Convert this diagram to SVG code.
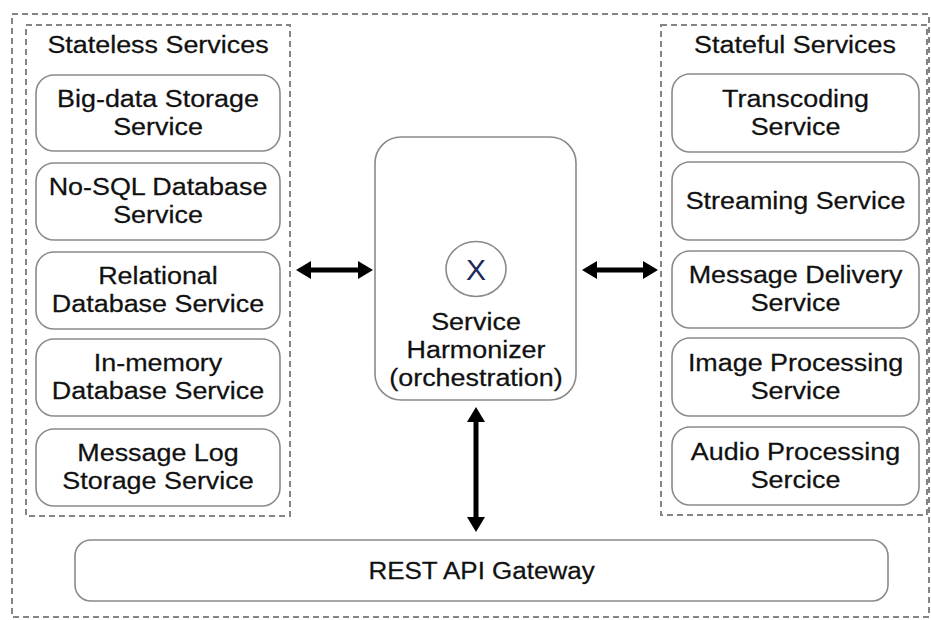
<svg xmlns="http://www.w3.org/2000/svg" width="931" height="620" viewBox="0 0 931 620">
  <style>
    .frame { fill: none; stroke: #858585; stroke-width: 2; stroke-dasharray: 6 4; }
    .node { fill: #ffffff; stroke: #8a8a8a; stroke-width: 1.6; }
    .lbl { font-family: "Liberation Sans", Arial, sans-serif; font-size: 23px; fill: #111111; text-anchor: middle; stroke: #111111; stroke-width: 0.25; }
    .title { font-family: "Liberation Sans", Arial, sans-serif; font-size: 23px; fill: #111111; text-anchor: middle; stroke: #111111; stroke-width: 0.25; }
    .link { stroke: #000000; stroke-width: 5; fill: none; }
  </style>
  <defs>
    <marker id="head" viewBox="0 0 15 18" refX="4" refY="9" markerWidth="15" markerHeight="18" markerUnits="userSpaceOnUse" orient="auto-start-reverse">
      <path d="M0,0 L15,9 L0,18 z" fill="#000000"/>
    </marker>
  </defs>

  <rect width="931" height="620" fill="#ffffff"/>

  <!-- outer system boundary -->
  <rect class="frame" x="12" y="14" width="917" height="603"/>

  <!-- stateless group -->
  <g id="stateless-group">
    <rect class="frame" x="26" y="25" width="264" height="491"/>
    <text class="title" transform="matrix(1.17 0 0 1 158 0)" x="0" y="53">Stateless Services</text>
  </g>
  <g id="big-data-storage">
    <rect class="node" x="36" y="75" width="244" height="76" rx="18"/>
    <text class="lbl" transform="matrix(1.17 0 0 1 158 0)" x="0" y="107">Big-data Storage</text>
    <text class="lbl" transform="matrix(1.17 0 0 1 158 0)" x="0" y="135">Service</text>
  </g>
  <g id="nosql-database">
    <rect class="node" x="36" y="163" width="244" height="77" rx="18"/>
    <text class="lbl" transform="matrix(1.17 0 0 1 158 0)" x="0" y="195">No-SQL Database</text>
    <text class="lbl" transform="matrix(1.17 0 0 1 158 0)" x="0" y="223">Service</text>
  </g>
  <g id="relational-database">
    <rect class="node" x="36" y="252" width="244" height="77" rx="18"/>
    <text class="lbl" transform="matrix(1.17 0 0 1 158 0)" x="0" y="284">Relational</text>
    <text class="lbl" transform="matrix(1.17 0 0 1 158 0)" x="0" y="312">Database Service</text>
  </g>
  <g id="in-memory-database">
    <rect class="node" x="36" y="339" width="244" height="77" rx="18"/>
    <text class="lbl" transform="matrix(1.17 0 0 1 158 0)" x="0" y="371">In-memory</text>
    <text class="lbl" transform="matrix(1.17 0 0 1 158 0)" x="0" y="399">Database Service</text>
  </g>
  <g id="message-log-storage">
    <rect class="node" x="36" y="429" width="244" height="77" rx="18"/>
    <text class="lbl" transform="matrix(1.17 0 0 1 158 0)" x="0" y="461">Message Log</text>
    <text class="lbl" transform="matrix(1.17 0 0 1 158 0)" x="0" y="489">Storage Service</text>
  </g>

  <!-- stateful group -->
  <g id="stateful-group">
    <rect class="frame" x="661" y="25" width="266" height="490"/>
    <text class="title" transform="matrix(1.17 0 0 1 795 0)" x="0" y="53">Stateful Services</text>
  </g>
  <g id="transcoding">
    <rect class="node" x="672" y="74" width="247" height="78" rx="18"/>
    <text class="lbl" transform="matrix(1.17 0 0 1 795.5 0)" x="0" y="107">Transcoding</text>
    <text class="lbl" transform="matrix(1.17 0 0 1 795.5 0)" x="0" y="135">Service</text>
  </g>
  <g id="streaming">
    <rect class="node" x="672" y="162" width="247" height="78" rx="18"/>
    <text class="lbl" transform="matrix(1.17 0 0 1 795.5 0)" x="0" y="209">Streaming Service</text>
  </g>
  <g id="message-delivery">
    <rect class="node" x="672" y="251" width="247" height="77" rx="18"/>
    <text class="lbl" transform="matrix(1.17 0 0 1 795.5 0)" x="0" y="283">Message Delivery</text>
    <text class="lbl" transform="matrix(1.17 0 0 1 795.5 0)" x="0" y="311">Service</text>
  </g>
  <g id="image-processing">
    <rect class="node" x="672" y="338" width="247" height="78" rx="18"/>
    <text class="lbl" transform="matrix(1.17 0 0 1 795.5 0)" x="0" y="371">Image Processing</text>
    <text class="lbl" transform="matrix(1.17 0 0 1 795.5 0)" x="0" y="399">Service</text>
  </g>
  <g id="audio-processing">
    <rect class="node" x="672" y="427" width="247" height="78" rx="18"/>
    <text class="lbl" transform="matrix(1.17 0 0 1 795.5 0)" x="0" y="460">Audio Processing</text>
    <text class="lbl" transform="matrix(1.17 0 0 1 795.5 0)" x="0" y="488">Sercice</text>
  </g>

  <!-- orchestrator -->
  <g id="service-harmonizer">
    <rect class="node" x="375" y="137" width="201" height="263" rx="26"/>
    <ellipse cx="476" cy="269" rx="30" ry="27.5" fill="#ffffff" stroke="#8a8a8a" stroke-width="1.6"/>
    <text x="476" y="280" font-family="Liberation Sans, Arial, sans-serif" font-size="30" fill="#1f2a5c" text-anchor="middle">X</text>
    <text class="lbl" transform="matrix(1.17 0 0 1 476 0)" x="0" y="330">Service</text>
    <text class="lbl" transform="matrix(1.17 0 0 1 476 0)" x="0" y="358">Harmonizer</text>
    <text class="lbl" transform="matrix(1.17 0 0 1 476 0)" x="0" y="386">(orchestration)</text>
  </g>

  <!-- gateway -->
  <g id="rest-api-gateway">
    <rect class="node" x="75" y="540" width="813" height="61" rx="16"/>
    <text class="lbl" transform="matrix(1.13 0 0 1 481.5 0)" x="0" y="579">REST API Gateway</text>
  </g>

  <!-- connectors -->
  <g id="connectors">
    <line class="link" x1="307" y1="270" x2="362" y2="270" marker-start="url(#head)" marker-end="url(#head)"/>
    <line class="link" x1="593" y1="270" x2="647" y2="270" marker-start="url(#head)" marker-end="url(#head)"/>
    <line class="link" x1="476" y1="418" x2="476" y2="521" marker-start="url(#head)" marker-end="url(#head)"/>
  </g>
</svg>
